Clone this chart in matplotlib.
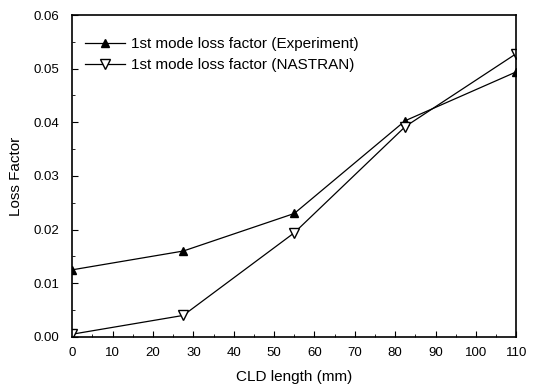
import numpy as np
import matplotlib.pyplot as plt
from matplotlib.ticker import MultipleLocator

plt.rcParams['font.family'] = ['Liberation Sans', 'DejaVu Sans']

# CLD length vs loss factor
cld_length = [0, 27.5, 55, 82.5, 110]
loss_experiment = [0.0125, 0.0160, 0.0230, 0.0403, 0.0494]
loss_nastran = [0.0005, 0.0040, 0.0194, 0.0392, 0.0528]

fig = plt.figure(figsize=(5.35, 3.85), dpi=100)
ax = fig.add_axes([0.135, 0.125, 0.83, 0.836])

ax.plot(cld_length, loss_experiment, color='black', lw=0.9, marker='^',
        ms=6, mfc='black', mec='black', label='1st mode loss factor (Experiment)')
ax.plot(cld_length, loss_nastran, color='black', lw=0.9, marker='v',
        ms=6.5, mfc='white', mec='black', label='1st mode loss factor (NASTRAN)')

ax.set_xlim(0, 110)
ax.set_ylim(0, 0.06)
ax.xaxis.set_major_locator(MultipleLocator(10))
ax.xaxis.set_minor_locator(MultipleLocator(5))
ax.yaxis.set_major_locator(MultipleLocator(0.01))
ax.yaxis.set_minor_locator(MultipleLocator(0.005))
ax.yaxis.set_major_formatter(plt.FormatStrFormatter('%.2f'))
ax.tick_params(which='both', direction='in', top=False, right=False, labelsize=9.5)
ax.tick_params(axis='y', pad=9)
ax.tick_params(axis='x', pad=7)
ax.tick_params(which='major', length=4)
ax.tick_params(which='minor', length=2)
for s in ax.spines.values():
    s.set_linewidth(1.2)

ax.set_xlabel('CLD length (mm)', fontsize=11, labelpad=8)
ax.set_ylabel('Loss Factor', fontsize=11, labelpad=8)
ax.legend(loc='upper left', frameon=False, fontsize=11, handlelength=2.6,
          handletextpad=0.4, borderaxespad=0.3, labelspacing=0.45,
          bbox_to_anchor=(0.005, 0.965))

plt.savefig('out.png')
